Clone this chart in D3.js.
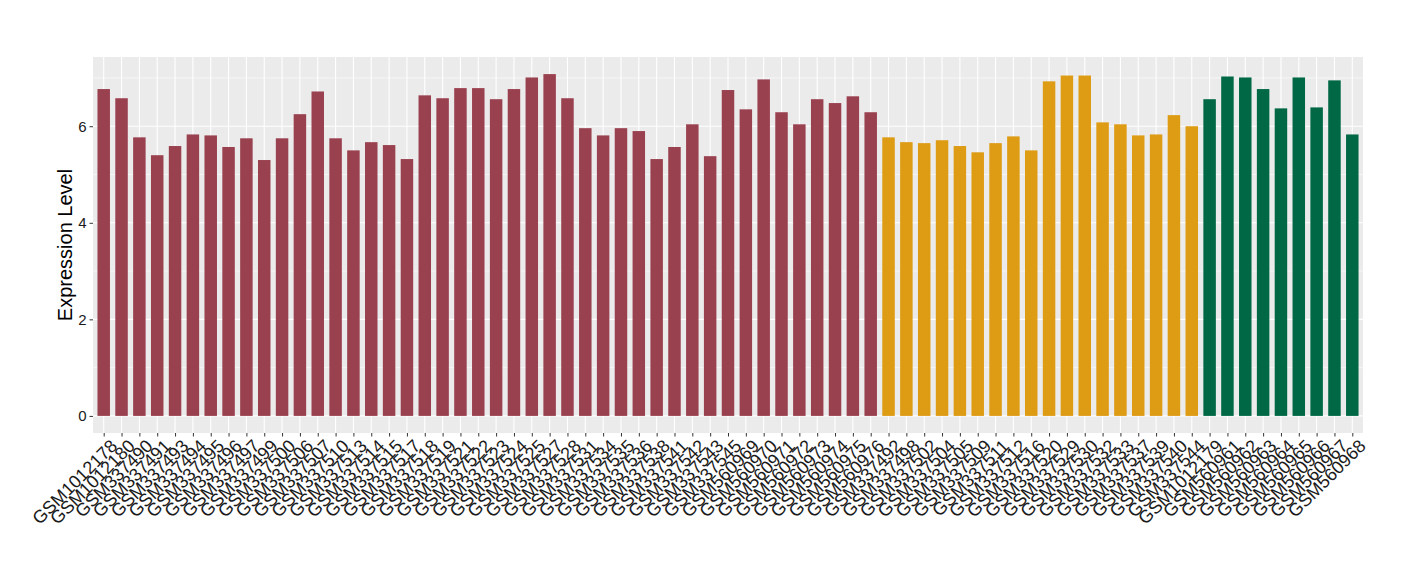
<!DOCTYPE html>
<html><head><meta charset="utf-8">
<script src="https://cdn.jsdelivr.net/npm/d3@7"></script>
<style>body{margin:0;background:#fff}svg{display:block}</style>
</head><body>
<svg id="c" width="1420" height="580"></svg>
<script>
const samples = ["GSM1012178","GSM1012180","GSM337490","GSM337491","GSM337493","GSM337494","GSM337495","GSM337496","GSM337497","GSM337499","GSM337500","GSM337506","GSM337507","GSM337510","GSM337513","GSM337514","GSM337515","GSM337517","GSM337518","GSM337519","GSM337521","GSM337522","GSM337523","GSM337524","GSM337525","GSM337527","GSM337528","GSM337531","GSM337534","GSM337535","GSM337536","GSM337538","GSM337541","GSM337542","GSM337543","GSM337545","GSM560969","GSM560970","GSM560971","GSM560972","GSM560973","GSM560974","GSM560975","GSM560976","GSM337492","GSM337498","GSM337502","GSM337504","GSM337505","GSM337509","GSM337511","GSM337512","GSM337516","GSM337520","GSM337529","GSM337530","GSM337532","GSM337533","GSM337537","GSM337539","GSM337540","GSM337544","GSM1012179","GSM560961","GSM560962","GSM560963","GSM560964","GSM560965","GSM560966","GSM560967","GSM560968"];
const values = [6.77,6.58,5.77,5.40,5.59,5.83,5.81,5.57,5.75,5.30,5.75,6.25,6.72,5.75,5.50,5.67,5.61,5.32,6.64,6.58,6.79,6.79,6.56,6.77,7.01,7.08,6.58,5.96,5.81,5.96,5.90,5.32,5.57,6.04,5.38,6.75,6.35,6.97,6.29,6.04,6.56,6.48,6.62,6.29,5.77,5.67,5.65,5.71,5.59,5.46,5.65,5.79,5.50,6.93,7.05,7.05,6.08,6.04,5.81,5.83,6.23,6.00,6.56,7.03,7.01,6.77,6.37,7.01,6.39,6.95,5.83];
const groups = ["A","A","A","A","A","A","A","A","A","A","A","A","A","A","A","A","A","A","A","A","A","A","A","A","A","A","A","A","A","A","A","A","A","A","A","A","A","A","A","A","A","A","A","A","B","B","B","B","B","B","B","B","B","B","B","B","B","B","B","B","B","B","C","C","C","C","C","C","C","C","C"];
const groupNames = ["A","B","C"];
const groupColors = ["#9A4150","#DE9B14","#006845"];
const yTicks = [0,2,4,6];
const yMinor = [1,3,5,7];

const data = samples.map((s,i)=>({s, v: values[i], g: groups[i]}));
const svg = d3.select("#c");
const L=93, R=1363, T=57, B=433;
const maxV = d3.max(values), ex = maxV*0.05;
const x = d3.scalePoint().domain(samples).range([L,R]).padding(0.6);
const y = d3.scaleLinear().domain([-ex, maxV+ex]).range([B,T]);
const color = d3.scaleOrdinal().domain(groupNames).range(groupColors);
const bw = x.step()*0.7;

svg.append("rect").attr("x",L).attr("y",T).attr("width",R-L).attr("height",B-T).attr("fill","#EBEBEB");
svg.append("g").selectAll("line").data(yMinor).join("line")
  .attr("x1",L).attr("x2",R).attr("y1",d=>y(d)).attr("y2",d=>y(d)).attr("stroke","#fff").attr("stroke-width",0.55);
svg.append("g").selectAll("line").data(yTicks).join("line")
  .attr("x1",L).attr("x2",R).attr("y1",d=>y(d)).attr("y2",d=>y(d)).attr("stroke","#fff").attr("stroke-width",1.1);
svg.append("g").selectAll("line").data(samples).join("line")
  .attr("y1",T).attr("y2",B).attr("x1",d=>x(d)).attr("x2",d=>x(d)).attr("stroke","#fff").attr("stroke-width",1.1);

svg.append("g").selectAll("rect").data(data).join("rect")
  .attr("x",d=>x(d.s)-bw/2).attr("width",bw)
  .attr("y",d=>y(d.v)).attr("height",d=>y(0)-y(d.v))
  .attr("fill",d=>color(d.g));

const ya = svg.append("g").attr("transform",`translate(${L},0)`)
  .call(d3.axisLeft(y).tickValues(yTicks).tickSize(3.5).tickPadding(3).tickFormat(d3.format("d")));
ya.select(".domain").remove();
ya.selectAll("line").attr("stroke","#333");
ya.selectAll("text").attr("font-family","Liberation Sans, Arial, sans-serif").attr("font-size",15).attr("fill","#1a1a1a");

const xa = svg.append("g").attr("transform",`translate(0,${B})`)
  .call(d3.axisBottom(x).tickSize(3.5).tickPadding(0));
xa.select(".domain").remove();
xa.selectAll("line").attr("stroke","#333");
xa.selectAll("text")
  .attr("font-family","Liberation Sans, Arial, sans-serif").attr("font-size",18).attr("fill","#1a1a1a")
  .attr("text-anchor","end").attr("dy",null).attr("y",null)
  .attr("transform","translate(5,5) rotate(-45)")
  .attr("dominant-baseline","hanging");

svg.append("text").attr("transform",`translate(72,${(T+B)/2}) rotate(-90)`)
  .attr("text-anchor","middle").attr("font-family","Liberation Sans, Arial, sans-serif")
  .attr("font-size",20).attr("fill","#000").text("Expression Level");
</script>
</body></html>
